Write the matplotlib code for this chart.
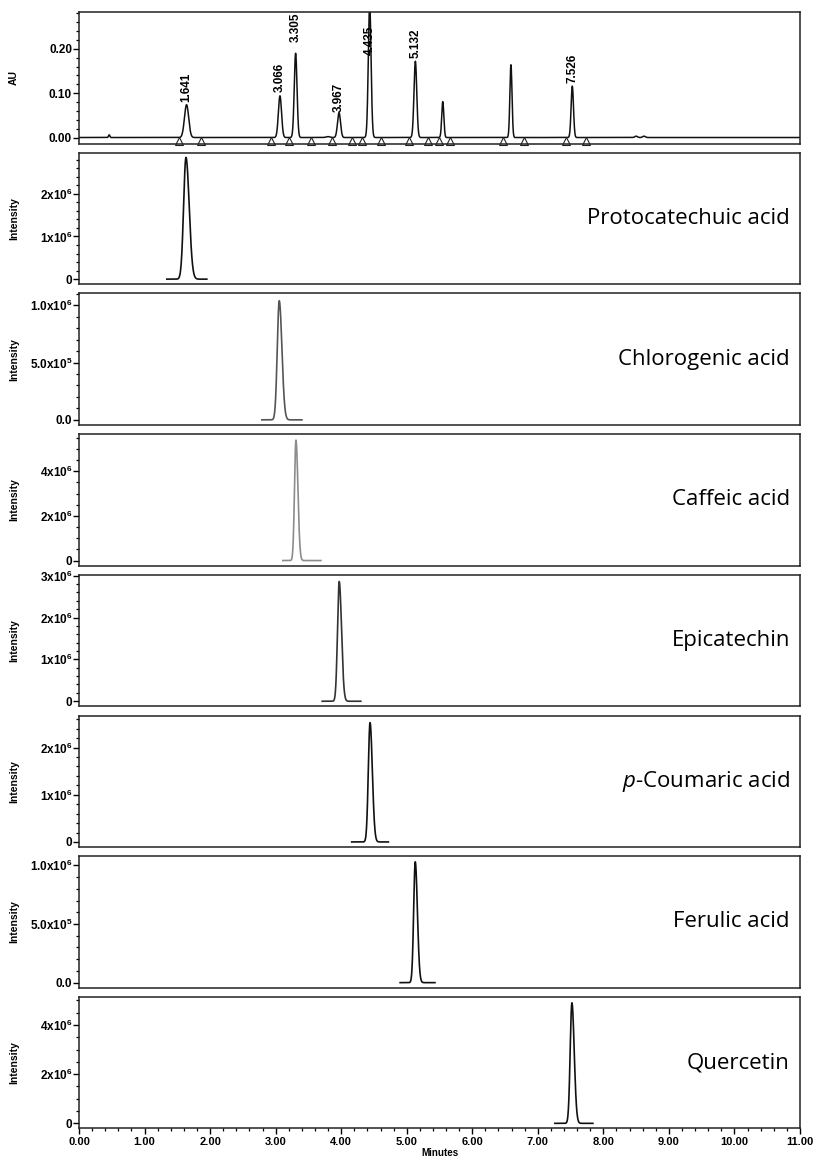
import numpy as np
import matplotlib
matplotlib.use("Agg")
import matplotlib.pyplot as plt
from matplotlib.ticker import FixedLocator, FixedFormatter, MultipleLocator

plt.rcParams["font.family"] = ["Liberation Sans", "DejaVu Sans"]
plt.rcParams["mathtext.default"] = "regular"
plt.rcParams["mathtext.fontset"] = "custom"
plt.rcParams["mathtext.it"] = "Open Sans:italic"
plt.rcParams["mathtext.rm"] = "Open Sans"

# --- UV chromatogram (top panel) ---
uv_rt = [0.46, 1.641, 3.066, 3.305, 3.80, 3.967, 4.435, 5.132, 5.55, 6.59, 7.526, 8.50, 8.62]
uv_height = [0.006, 0.074, 0.094, 0.190, 0.002, 0.056, 0.300, 0.172, 0.081, 0.164, 0.116, 0.003, 0.003]
uv_sigma = [0.010, 0.032, 0.024, 0.021, 0.030, 0.023, 0.021, 0.021, 0.016, 0.016, 0.018, 0.020, 0.020]
uv_labels = ["1.641", "3.066", "3.305", "3.967", "4.435", "5.132", "7.526"]
uv_label_y = [0.081, 0.102, 0.216, 0.058, 0.187, 0.180, 0.124]
uv_marks = [1.526, 1.861, 2.929, 3.204, 3.539, 3.860, 4.165, 4.318, 4.608, 5.035,
            5.325, 5.492, 5.660, 6.469, 6.789, 7.430, 7.735]

# --- extracted-ion chromatograms ---
compounds = ["Protocatechuic acid", "Chlorogenic acid", "Caffeic acid", "Epicatechin",
             "$\\mathit{p}$-Coumaric acid", "Ferulic acid", "Quercetin"]
peak_rt = [1.632, 3.055, 3.31, 3.97, 4.44, 5.13, 7.52]
peak_height = [2.85e6, 1.04e6, 5.39e6, 2.86e6, 2.53e6, 1.03e6, 4.90e6]
peak_sigma = [0.036, 0.030, 0.022, 0.026, 0.026, 0.024, 0.026]
trace_start = [1.34, 2.79, 3.11, 3.71, 4.16, 4.90, 7.26]
trace_end = [1.95, 3.40, 3.69, 4.30, 4.72, 5.43, 7.84]
trace_color = ["#111111", "#555555", "#8c8c8c", "#333333", "#111111", "#111111", "#111111"]
y_max = [2.96e6, 1.104e6, 5.66e6, 3.02e6, 2.68e6, 1.078e6, 5.14e6]
y_ticks = [[0, 1e6, 2e6], [0, 5e5, 1e6], [0, 2e6, 4e6], [0, 1e6, 2e6, 3e6],
           [0, 1e6, 2e6], [0, 5e5, 1e6], [0, 2e6, 4e6]]
y_ticklabels = [["0", "1x10$^{6}$", "2x10$^{6}$"],
                ["0.0", "5.0x10$^{5}$", "1.0x10$^{6}$"],
                ["0", "2x10$^{6}$", "4x10$^{6}$"],
                ["0", "1x10$^{6}$", "2x10$^{6}$", "3x10$^{6}$"],
                ["0", "1x10$^{6}$", "2x10$^{6}$"],
                ["0.0", "5.0x10$^{5}$", "1.0x10$^{6}$"],
                ["0", "2x10$^{6}$", "4x10$^{6}$"]]
y_minor = [0.2e6, 1e5, 0.5e6, 0.2e6, 0.2e6, 1e5, 0.5e6]

x_ticks = list(range(0, 12))
x_ticklabels = [f"{v:.2f}" for v in x_ticks]

W, H = 814, 1160
LEFT, RIGHT = 79, 800
TOP0, PITCH, PH = 12, 140.7, 131.5
TICK_FS = 8.5


def panel_axes(fig, i):
    top = TOP0 + i * PITCH
    return fig.add_axes([LEFT / W, 1 - (top + PH) / H, (RIGHT - LEFT) / W, PH / H])


def style_axes(ax, bottom_axis=False):
    for sp in ax.spines.values():
        sp.set_linewidth(1.1)
        sp.set_color("#222222")
    ax.set_xlim(0, 11)
    ax.tick_params(axis="y", which="major", direction="out", length=4, width=1,
                   labelsize=TICK_FS, pad=1)
    ax.tick_params(axis="y", which="minor", direction="out", length=2.5, width=0.9)
    for lbl in ax.get_yticklabels():
        lbl.set_fontweight("bold")
    if bottom_axis:
        ax.xaxis.set_major_locator(FixedLocator(x_ticks))
        ax.xaxis.set_major_formatter(FixedFormatter(x_ticklabels))
        ax.xaxis.set_minor_locator(MultipleLocator(0.2))
        ax.tick_params(axis="x", which="major", direction="out", length=4, width=1,
                       labelsize=8, pad=2)
        ax.tick_params(axis="x", which="minor", direction="out", length=2.5, width=0.9)
        for lbl in ax.get_xticklabels():
            lbl.set_fontweight("bold")
    else:
        ax.tick_params(axis="x", which="both", bottom=False, labelbottom=False)


def asym_peak(x, rt, h, s):
    sig = np.where(x < rt, s, s * 1.35)
    return h * np.exp(-0.5 * ((x - rt) / sig) ** 2)


fig = plt.figure(figsize=(W / 100, H / 100), dpi=100)

# top UV panel
ax = panel_axes(fig, 0)
x = np.linspace(0, 11, 6000)
y = np.zeros_like(x)
for rt, h, s in zip(uv_rt, uv_height, uv_sigma):
    y += h * np.exp(-0.5 * ((x - rt) / s) ** 2)
ax.plot(x, y, color="#111111", lw=1.1)
ax.set_ylim(-0.0135, 0.283)
ax.plot(uv_marks, [-0.0068] * len(uv_marks), linestyle="none", marker="^", ms=5.5,
        mfc="white", mec="#222222", mew=0.8, clip_on=False)
for lab, ly in zip(uv_labels, uv_label_y):
    ax.text(float(lab), ly, lab, rotation=90, ha="center", va="bottom",
            fontsize=8.5, fontweight="bold")
ax.yaxis.set_major_locator(FixedLocator([0.0, 0.1, 0.2]))
ax.yaxis.set_major_formatter(FixedFormatter(["0.00", "0.10", "0.20"]))
ax.yaxis.set_minor_locator(MultipleLocator(0.02))
style_axes(ax)
ax.set_ylabel("AU", fontsize=7.5, fontweight="bold")
ax.yaxis.set_label_coords(-0.083, 0.5)

for i, name in enumerate(compounds):
    ax = panel_axes(fig, i + 1)
    xs = np.linspace(trace_start[i], trace_end[i], 400)
    ys = asym_peak(xs, peak_rt[i], peak_height[i], peak_sigma[i])
    ax.plot(xs, ys, color=trace_color[i], lw=1.2)
    ax.set_ylim(-0.04 * y_max[i], y_max[i])
    ax.yaxis.set_major_locator(FixedLocator(y_ticks[i]))
    ax.yaxis.set_major_formatter(FixedFormatter(y_ticklabels[i]))
    ax.yaxis.set_minor_locator(MultipleLocator(y_minor[i]))
    style_axes(ax, bottom_axis=(i == len(compounds) - 1))
    ax.set_ylabel("Intensity", fontsize=7.5, fontweight="bold")
    ax.yaxis.set_label_coords(-0.083, 0.5)
    ax.text(0.986, 0.5, name, transform=ax.transAxes, ha="right", va="center",
            fontsize=16, family="Open Sans")
    if i == len(compounds) - 1:
        ax.set_xlabel("Minutes", fontsize=7, fontweight="bold", labelpad=1)

fig.savefig("out.png", dpi=100)
